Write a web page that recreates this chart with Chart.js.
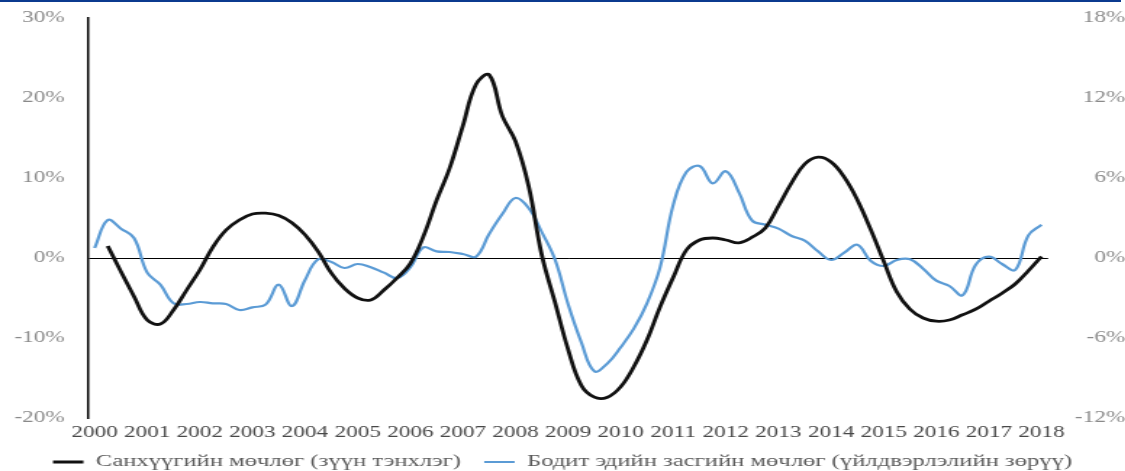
<!DOCTYPE html>
<html lang="mn">
<head>
<meta charset="UTF-8">
<title>Санхүүгийн мөчлөг ба бодит эдийн засгийн мөчлөг</title>
<script src="https://cdn.jsdelivr.net/npm/chart.js"></script>
<style>
  html, body { margin: 0; padding: 0; background: #fff; overflow: hidden; }
  .topline { position: absolute; left: 0; top: 0; width: 1121px; height: 2px; background: #0b3a8f; }
  /* the chart is laid out narrow and widened, so the serif text comes out wide */
  .wrap { position: absolute; left: 0; top: 0; width: 776px; height: 471px; transform: scaleX(1.45); transform-origin: 0 0; }
</style>
</head>
<body>
<div class="wrap"><canvas id="cycleChart" width="776" height="471"></canvas></div>
<div class="topline"></div>

<script>
  const years = [2000, 2001, 2002, 2003, 2004, 2005, 2006, 2007, 2008, 2009,
                 2010, 2011, 2012, 2013, 2014, 2015, 2016, 2017, 2018];

  // quarterly, 2000 I .. 2018 I
  const financialCycle = [
    null, 1.5, -1.7, -4.8,
    -7.75, -8.25, -6.5, -4.0,
    -1.5, 1.4, 3.5, 4.75,
    5.5, 5.6, 5.3, 4.4,
    2.9, 0.8, -1.9, -3.8,
    -5.0, -5.25, -4.0, -2.5,
    -0.7, 2.7, 7.2, 11.25,
    16.5, 21.7, 22.9, 17.75,
    14.6, 9.0, 0.4, -5.5,
    -11.4, -15.9, -17.4, -17.4,
    -16.1, -13.6, -10.25, -6.1,
    -2.4, 1.0, 2.25, 2.5,
    2.25, 1.9, 2.6, 3.75,
    6.5, 9.4, 11.75, 12.6,
    12.0, 10.1, 7.25, 3.6,
    -0.4, -4.25, -6.4, -7.5,
    -7.9, -7.75, -7.1, -6.4,
    -5.4, -4.4, -3.25, -1.6,
    0.2
  ];

  const economicCycle = [
    0.75, 2.85, 2.2, 1.5,
    -1.1, -2.0, -3.4, -3.45,
    -3.3, -3.4, -3.45, -3.9,
    -3.7, -3.5, -2.0, -3.6,
    -1.65, -0.1, -0.3, -0.75,
    -0.45, -0.7, -1.1, -1.5,
    -0.7, 0.8, 0.5, 0.45,
    0.3, 0.1, 1.8, 3.3,
    4.5, 3.75, 1.95, -0.1,
    -3.45, -6.3, -8.5, -7.9,
    -6.7, -5.3, -3.4, -0.7,
    4.0, 6.45, 6.9, 5.6,
    6.5, 4.9, 2.8, 2.5,
    2.2, 1.65, 1.3, 0.5,
    -0.15, 0.4, 1.0, -0.2,
    -0.6, -0.15, -0.1, -0.8,
    -1.7, -2.1, -2.8, -0.5,
    0.1, -0.45, -0.9, 1.7,
    2.5
  ];

  const leftTicks = [-20, -10, 0, 10, 20, 30];
  const rightTicks = [-12, -6, 0, 6, 12, 18];

  const seriesNames = [
    'Санхүүгийн мөчлөг (зүүн тэнхлэг)',
    'Бодит эдийн засгийн мөчлөг (үйлдвэрлэлийн зөрүү)'
  ];

  const romans = ['I', 'II', 'III', 'IV'];
  const quarters = [];
  years.forEach(y => romans.forEach(q => quarters.push(y + ' ' + q)));
  quarters.length = financialCycle.length;

  const serif = "'Times New Roman', 'Liberation Serif', serif";
  const clear = 'rgba(0,0,0,0)';

  new Chart(document.getElementById('cycleChart'), {
    type: 'line',
    data: {
      labels: quarters,
      datasets: [
        {
          label: seriesNames[0],
          data: financialCycle,
          yAxisID: 'yLeft',
          borderColor: '#111111',
          backgroundColor: '#111111',
          borderWidth: 2.8,
          pointRadius: 0,
          tension: 0.4
        },
        {
          label: seriesNames[1],
          data: economicCycle,
          yAxisID: 'yRight',
          borderColor: '#5b9bd5',
          backgroundColor: '#5b9bd5',
          borderWidth: 2.2,
          pointRadius: 0,
          tension: 0.4
        }
      ]
    },
    options: {
      responsive: false,
      animation: false,
      layout: { padding: { top: 18, bottom: -9.5, left: 0, right: 0 } },
      plugins: {
        tooltip: { enabled: false },
        legend: {
          position: 'bottom',
          labels: {
            usePointStyle: true,
            pointStyle: 'line',
            pointStyleWidth: 21,
            padding: 16,
            color: '#5a5a5a',
            font: { family: serif, size: 17 }
          }
        }
      },
      scales: {
        x: {
          type: 'category',
          offset: true,
          grid: { display: false, drawTicks: false },
          border: { display: false },
          ticks: {
            autoSkip: false,
            maxRotation: 0,
            minRotation: 0,
            padding: 5,
            color: '#484848',
            font: { family: serif, size: 16 },
            callback: (v, i) => (i % 4 === 0 ? String(years[i / 4]) : null)
          },
          afterFit: s => { s.height = 19.5; }
        },
        yLeft: {
          position: 'left',
          min: leftTicks[0],
          max: leftTicks[leftTicks.length - 1],
          ticks: {
            stepSize: 10,
            padding: 0,
            color: '#8a8a8a',
            font: { family: serif, size: 16 },
            callback: v => v + '%'
          },
          grid: {
            drawTicks: true,
            tickLength: 16,
            tickColor: clear,
            lineWidth: 1,
            color: c => (c.tick && c.tick.value === 0 ? '#000000' : clear)
          },
          border: { display: true, color: '#000000', width: 1.5 },
          afterFit: s => { s.width = 60.7; }
        },
        yRight: {
          position: 'right',
          min: rightTicks[0],
          max: rightTicks[rightTicks.length - 1],
          ticks: {
            stepSize: 6,
            padding: 0,
            crossAlign: 'far',
            color: '#8a8a8a',
            font: { family: serif, size: 16 },
            callback: v => v + '%'
          },
          grid: { display: true, drawOnChartArea: false, drawTicks: true, tickLength: 12, tickColor: clear, color: clear },
          border: { display: false },
          afterFit: s => { s.width = 53.2; }
        }
      }
    }
  });
</script>
</body>
</html>
